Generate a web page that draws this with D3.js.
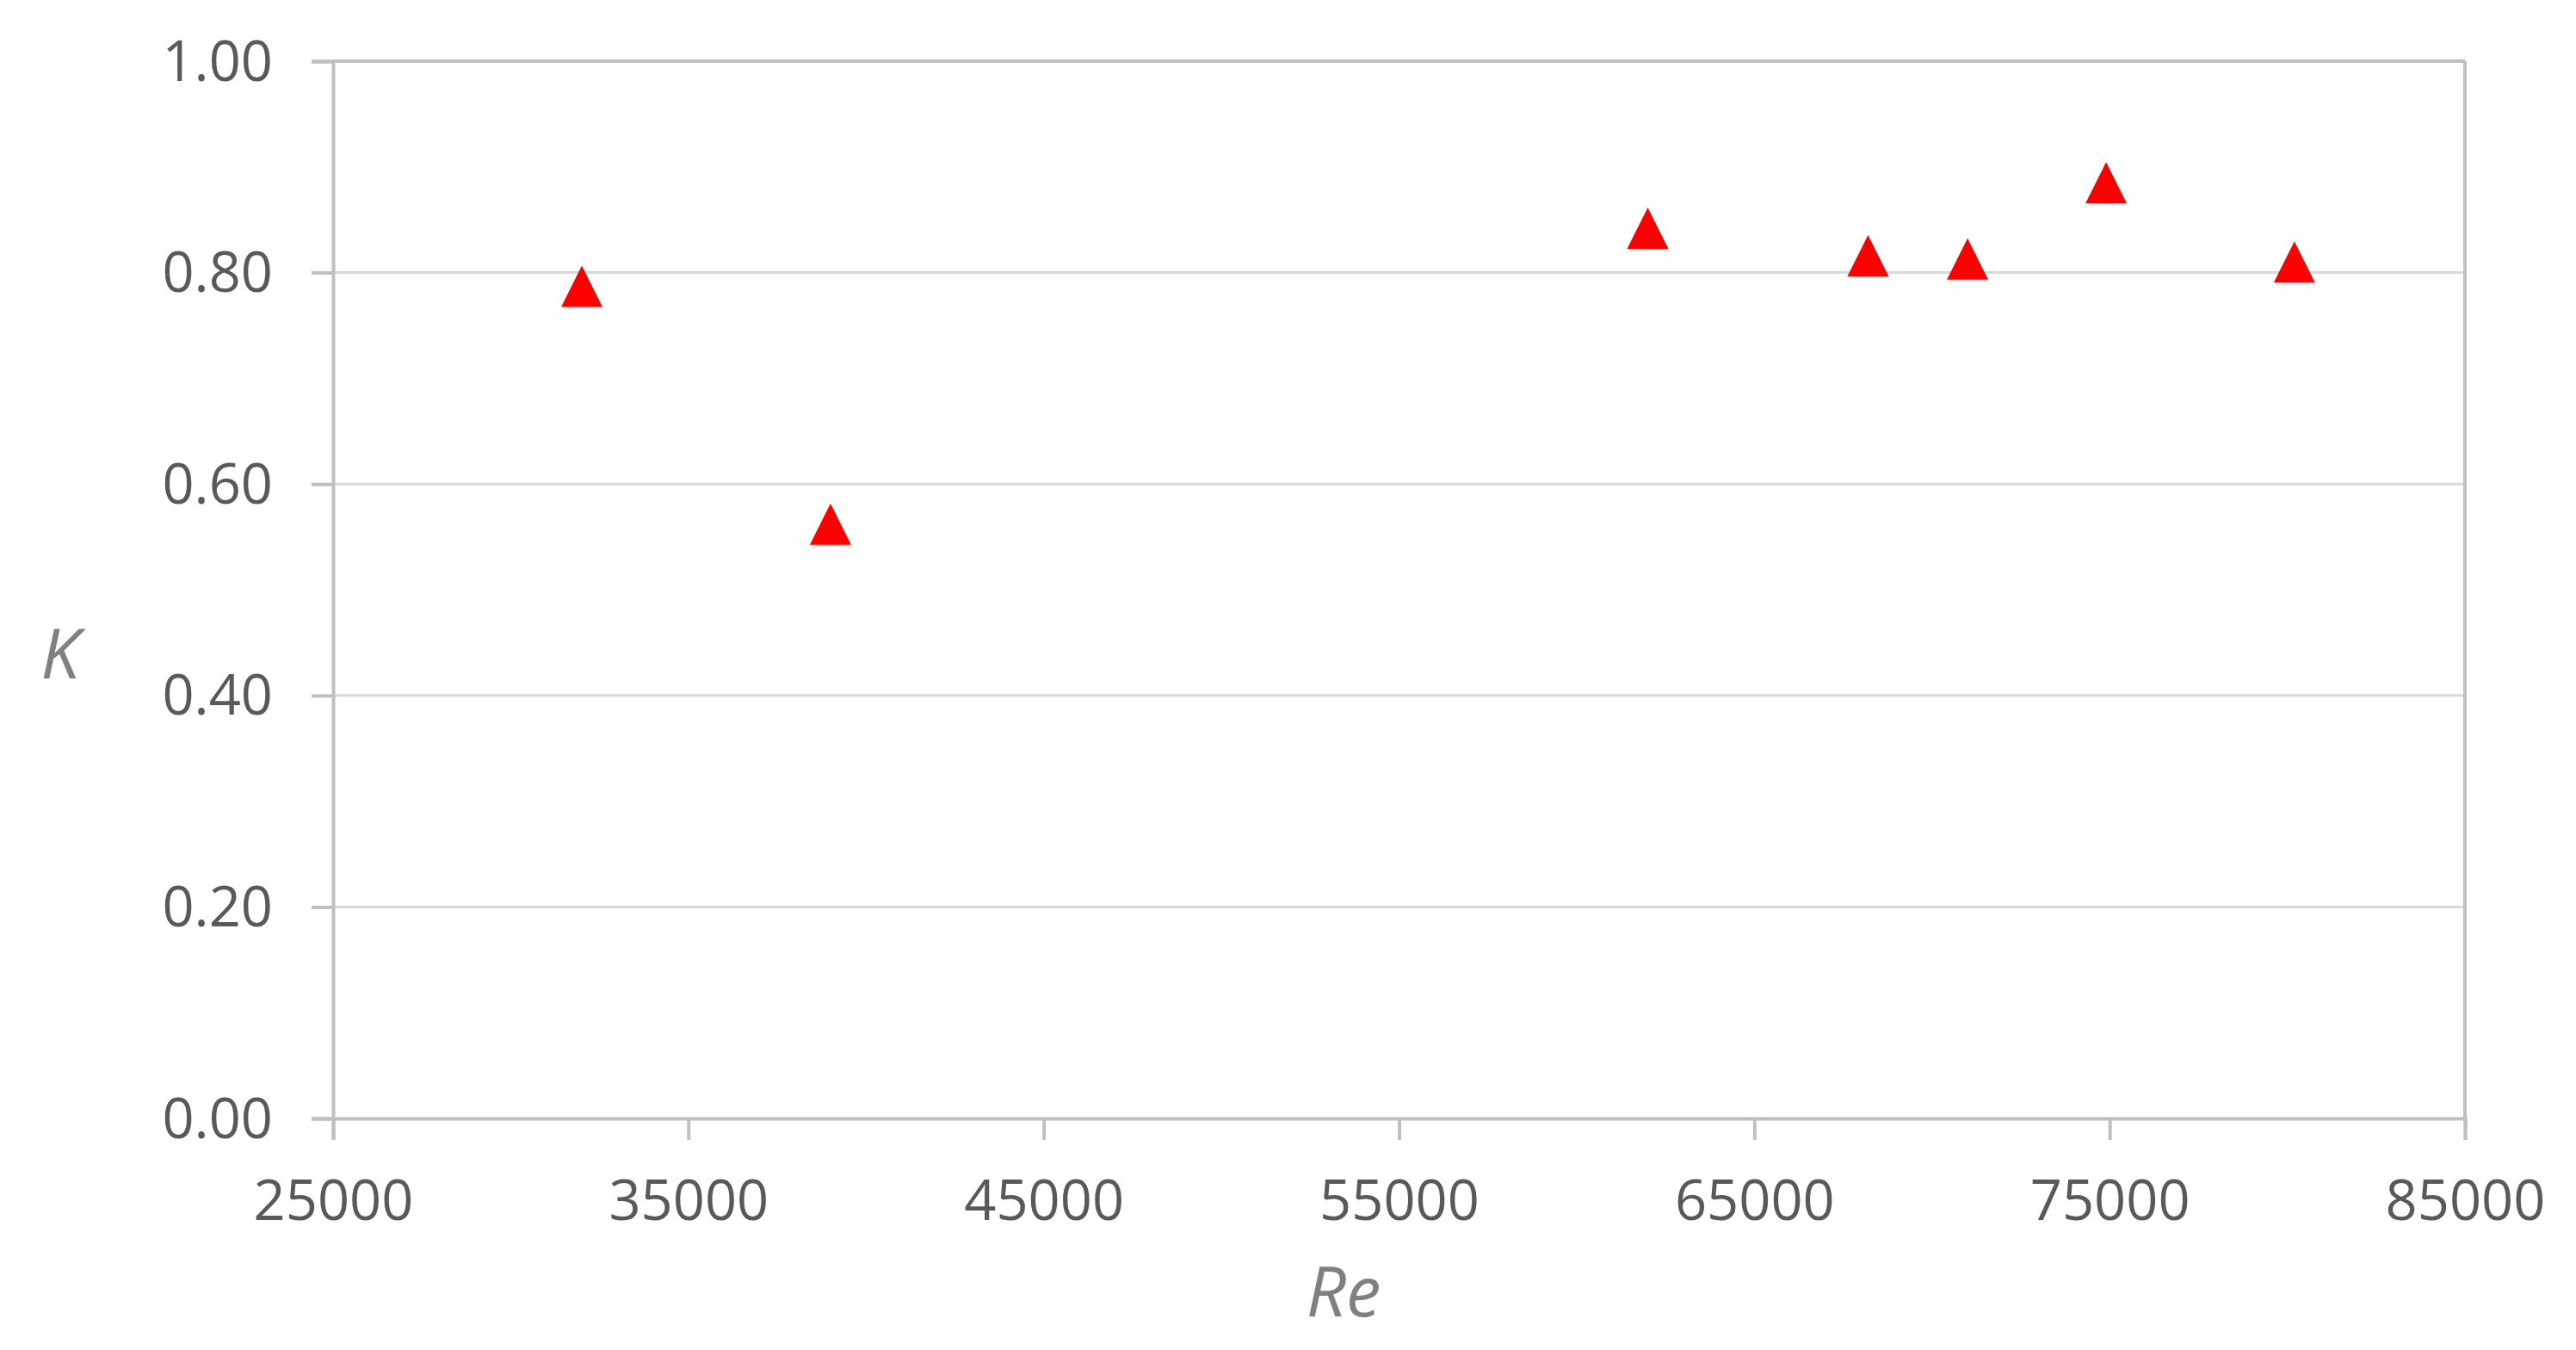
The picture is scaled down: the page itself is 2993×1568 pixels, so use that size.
<!DOCTYPE html>
<html>
<head>
<meta charset="utf-8">
<script src="https://cdn.jsdelivr.net/npm/d3@7"></script>
<style>
  html, body { margin: 0; padding: 0; background: #ffffff; }
  svg { display: block; }
</style>
</head>
<body>
<svg id="chart" width="2993" height="1568"></svg>
<script>
// ---- data ----
const reValues = [32000, 39000, 62000, 68200, 71000, 74900, 80200];
const kValues  = [0.787, 0.562, 0.842, 0.816, 0.813, 0.885, 0.810];
const xTickValues = [25000, 35000, 45000, 55000, 65000, 75000, 85000];
const yTickValues = [0.0, 0.2, 0.4, 0.6, 0.8, 1.0];
const xTitle = "Re";
const yTitle = "K";

(function () {
  // ---- layout ----
  const pL = 387, pR = 2864, pT = 71, pB = 1299;
  const svg = d3.select("#chart");

  const x = d3.scaleLinear().domain([25000, 85000]).range([pL, pR]);
  const y = d3.scaleLinear().domain([0, 1]).range([pB, pT]);

  const fontFam = "'Open Sans', 'Liberation Sans', sans-serif";

  // gridlines
  svg.append("g")
    .selectAll("line")
    .data(yTickValues.filter(v => v > 0 && v < 1))
    .join("line")
    .attr("x1", pL).attr("x2", pR)
    .attr("y1", d => y(d)).attr("y2", d => y(d))
    .attr("stroke", "#d9d9d9").attr("stroke-width", 3);

  // frame (top & right)
  svg.append("line").attr("x1", pL).attr("x2", pR).attr("y1", pT).attr("y2", pT)
    .attr("stroke", "#bfbfbf").attr("stroke-width", 4);
  svg.append("line").attr("x1", pR).attr("x2", pR).attr("y1", pT).attr("y2", pB)
    .attr("stroke", "#bfbfbf").attr("stroke-width", 4);

  // y axis
  const yAxis = d3.axisLeft(y).tickValues(yTickValues).tickFormat(d3.format(".2f"))
    .tickSize(25).tickPadding(45);
  const gy = svg.append("g").attr("transform", `translate(${pL},0)`).call(yAxis);
  gy.select(".domain").attr("stroke", "#bfbfbf").attr("stroke-width", 4);
  gy.selectAll(".tick line").attr("stroke", "#bfbfbf").attr("stroke-width", 4);
  gy.selectAll(".tick text")
    .attr("font-family", fontFam).attr("font-size", 65).attr("fill", "#595959")
    .attr("dy", "0.34em");

  // x axis
  const xAxis = d3.axisBottom(x).tickValues(xTickValues).tickFormat(d3.format("d"))
    .tickSize(25).tickPadding(45);
  const gx = svg.append("g").attr("transform", `translate(0,${pB})`).call(xAxis);
  gx.select(".domain").attr("stroke", "#bfbfbf").attr("stroke-width", 4);
  gx.selectAll(".tick line").attr("stroke", "#bfbfbf").attr("stroke-width", 4);
  gx.selectAll(".tick text")
    .attr("font-family", fontFam).attr("font-size", 65).attr("fill", "#595959")
    .attr("y", 118).attr("dy", 0);

  // axis titles
  svg.append("text").text(xTitle)
    .attr("x", 1561).attr("y", 1529)
    .attr("text-anchor", "middle")
    .attr("font-family", fontFam).attr("font-size", 81).attr("font-style", "italic")
    .attr("fill", "#808080");
  svg.append("text").text(yTitle)
    .attr("x", 70).attr("y", 788)
    .attr("text-anchor", "middle")
    .attr("font-family", fontFam).attr("font-size", 81).attr("font-style", "italic")
    .attr("fill", "#808080");

  // markers
  const hs = 24;
  const pts = reValues.map((r, i) => ({ r, k: kValues[i] }));
  svg.append("g")
    .selectAll("path")
    .data(pts)
    .join("path")
    .attr("transform", d => `translate(${x(d.r)},${y(d.k)})`)
    .attr("d", `M0,${-hs}L${hs},${hs}L${-hs},${hs}Z`)
    .attr("fill", "#ff0000");
})();
</script>
</body>
</html>
